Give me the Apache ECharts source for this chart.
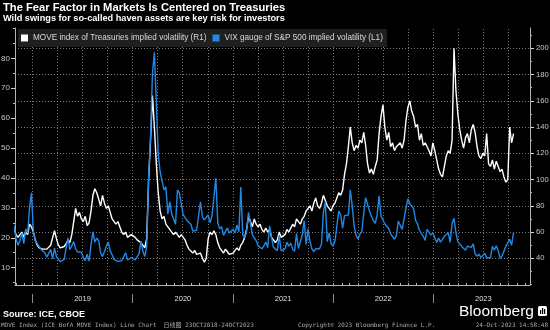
<!DOCTYPE html>
<html><head><meta charset="utf-8">
<script src="https://cdn.jsdelivr.net/npm/echarts@6/dist/echarts.min.js"></script>
<style>html,body{margin:0;padding:0;background:#000}#c{width:550px;height:330px}</style>
</head><body><div id="c"></div>
<script>
// Weekly observations (Fridays) starting at START_WEEK
const START_WEEK = '2018-10-26';
const moveValues = [
  // 2018
  62, 58, 56, 58, 60, 56, 60, 58, 66, 64,
  // 2019
  60, 54, 50, 48,  48, 47, 46, 47,  48, 50, 49, 61, 55,  50, 48, 47, 49,
  51, 54, 52, 58, 68,  78, 72, 75, 70,  68, 72, 65, 67,  76, 88, 93, 90, 85,
  80, 88, 82, 78,  80, 75, 70, 68,  66, 68, 64, 60, 58,  60, 56, 55, 58,
  // 2020
  58, 56, 54, 55, 52,  50, 48, 55, 100,  130, 164, 140, 112,  90, 76, 70, 72,
  66, 64, 62, 60, 58,  60, 58, 56, 58,  56, 54, 50, 47, 46,  44, 46, 43, 42,
  44, 40, 37, 40,  55, 60, 58, 61, 58,  52, 48, 46, 44,  47, 45, 43, 44,
  // 2021
  44, 46, 48, 46, 50,  52, 56, 62, 72,  68, 64, 70, 66,  64, 66, 62, 60, 63,
  60, 62, 56, 54,  52, 54, 60, 56,  55, 58, 62, 60, 63,  66, 64, 70, 68,
  66, 70, 72, 76,  78, 80, 76, 82, 86,  80, 78, 82, 88,  84, 80, 78, 76, 80,
  // 2022
  82, 86, 90, 88,  92, 104, 112, 125,  140, 128, 122, 126,  124, 130, 128, 136, 126,
  112, 105, 108, 104,  110, 115, 135, 148,  157, 140, 130, 136, 125,  128, 122, 125, 126,
  128, 124, 130, 145, 155,  160, 152, 148, 140,  142, 130, 135, 126,  128, 125, 122, 118, 128,
  // 2023
  122, 115, 108, 104,  102, 110, 118, 122,  120, 130, 200, 168, 150,  138, 130, 124, 132,
  135, 128, 138, 142,  136, 125, 118, 116, 120,  118, 135, 112, 110,  115, 108, 114, 110,
  106, 108, 102, 98, 100,  140, 128, 135
];
const vixValues = [
  // 2018
  24, 19.5, 17.5, 19, 21.5, 18, 23, 21.5, 30, 35,
  // 2019
  22, 19, 18, 17.4,  16.1, 15.7, 14.9, 13.5,  13.6, 16.1, 12.9, 16.5, 13.7,  12.8, 12, 12.1, 12.7,
  12.9, 20, 16, 15.9, 18.7,  16.3, 15.3, 15.4, 15.1,  13.3, 12.4, 14.5, 12.2,  17.6, 22, 18.5, 19.9, 19,
  15, 13.7, 15.3, 17.2,  18.5, 15.6, 14.3, 12.7,  12.3, 12.1, 12.05, 12.3, 12.6,  15, 12.6, 12.5, 13.4,
  // 2020
  14, 12.6, 12.1, 14.6, 18.8,  15.5, 13.7, 17.1, 40,  54, 75, 82, 65,  48, 42, 39, 36,
  37, 28, 32, 28, 27.5,  24.5, 36, 35, 34.7,  27.7, 27.3, 25.7, 25.8, 24.5,  22.2, 22.1, 22.5, 23,
  32, 27, 26, 26.4,  27.6, 25, 27.4, 28, 40,  25, 23, 23.7, 20.8,  20.8, 23.3, 21.6, 21.5,
  // 2021
  22.8, 21.6, 24.3, 22, 37,  21, 20, 22, 28.5,  25, 21, 21, 19,  17.3, 17, 16.3, 17.3, 18.6,
  16.7, 24, 20, 16.8,  16.4, 15.7, 20.7, 15.6,  15.1, 16.2, 18.5, 17.2, 18.2,  16.2, 15.5, 21.5, 16.4,
  16.4, 21, 25.7, 17.8,  23, 18.8, 16.3, 15.4, 16.3,  16.5, 16.3, 17.9, 28.6,  32, 18.7, 21.6, 18, 17.2,
  // 2022
  18.8, 19.2, 28.9, 27.7,  23.2, 27.4, 27.8, 27.6,  36, 30.8, 23.9, 20.8,  19.6, 21.2, 22, 28.2, 33.4,
  33, 28.9, 29.4, 25.7,  24.8, 27.8, 34, 27.2,  26.7, 24.6, 24.2, 23, 21.3,  21.2, 19.5, 20.6, 25.6,
  25.5, 22.8, 26.3, 29.9, 33,  31.4, 32, 29.7, 25.8,  24.6, 22.5, 23.1, 20.5,  19.1, 22.8, 22.6, 20.9, 21.7,
  // 2023
  21.1, 18.4, 19.9, 18.5,  18.3, 20.5, 20, 21.7,  18.5, 24.8, 26.5, 21.7, 18.7,  18.4, 17.1, 16.8, 15.8,
  17.2, 17, 16.8, 18,  14.6, 13.8, 14.5, 13.4, 13.6,  14.8, 13.3, 13.6, 13.3,  17.1, 15.8, 17.3, 15.7,
  13.1, 13.8, 13.8, 17.2, 17.5,  19.5, 17.5, 21.7
];
const years = [2019, 2020, 2021, 2022, 2023];
const leftLabels = [10, 20, 30, 40, 50, 60, 70, 80];
const leftMinorTicks = [5, 10, 15, 20, 25, 30, 35, 40, 45, 50, 55, 60, 65, 70, 75, 80, 85, 90];
const rightLabels = [40, 60, 80, 100, 120, 140, 160, 180, 200];
const rightMinorTicks = [20, 30, 40, 50, 60, 70, 80, 90, 100, 110, 120, 130, 140, 150, 160, 170, 180, 190, 200, 210];

const MOVE_NAME = 'MOVE index of Treasuries implied volatility (R1)';
const VIX_NAME = 'VIX gauge of S&P 500 implied volatility (L1)';

function ts(s){ const p = s.split('-').map(Number); return new Date(p[0], p[1]-1, p[2]).getTime(); }
const sw = START_WEEK.split('-').map(Number);
const weekDates = moveValues.map((_, i) => new Date(sw[0], sw[1]-1, sw[2] + 7*i).getTime());
const movePairs = moveValues.map((v, i) => [weekDates[i], v]);
const vixPairs = vixValues.map((v, i) => [weekDates[i], v]);

const XMIN = ts('2018-10-29'), XMAX = ts('2023-12-19');
const monthTicks = [];
for (let k = 0; k < 62; k++) monthTicks.push(new Date(2018, 10 + k, 1).getTime());
const quarterTicks = [];
years.forEach(y => { [0,3,6,9].forEach(m => quarterTicks.push(new Date(y, m, 1).getTime())); });
const yearTicks = years.map(y => new Date(y, 0, 1).getTime());
const yearLabelPos = years.map(y => new Date(y, 6, 2).getTime());

const LMIN = 4.2, LMAX = 90.15, RMIN = 19.66, RMAX = 215.5;
const axisColor = '#b4b4b4';
const labelColor = '#c8c8c8';
const gridColor = '#a0a0a0';
const FONT = "'Liberation Sans', Arial, sans-serif";

const chart = echarts.init(document.getElementById('c'), null, {renderer: 'canvas'});
chart.setOption({
  animation: false,
  backgroundColor: '#000',
  title: [
    {text: 'The Fear Factor in Markets Is Centered on Treasuries', left: 3, top: 2, padding: 0,
     textStyle: {color: '#fff', fontSize: 11.2, fontWeight: 'bold', fontFamily: FONT}},
    {text: 'Wild swings for so-called haven assets are key risk for investors', left: 3, top: 14, padding: 0,
     textStyle: {color: '#fff', fontSize: 9.2, fontWeight: 'bold', fontFamily: FONT}},
    {text: 'Source: ICE, CBOE', left: 3, top: 310, padding: 0,
     textStyle: {color: '#fff', fontSize: 9, fontWeight: 'bold', fontFamily: FONT}},
    {text: 'Bloomberg', left: 459, top: 304, padding: 0,
     textStyle: {color: '#fff', fontSize: 15.5, fontWeight: 'normal', fontFamily: FONT}},
    {text: 'MOVE Index (ICE BofA MOVE Index) Line Chart  日线图 23OCT2018-24OCT2023', left: 1, top: 322, padding: 0,
     textStyle: {color: '#a8a8a8', fontSize: 6, fontWeight: 'normal', fontFamily: "'DejaVu Sans Mono', 'Noto Sans CJK SC', monospace"}},
    {text: 'Copyright© 2023 Bloomberg Finance L.P.', left: 298, top: 322, padding: 0,
     textStyle: {color: '#a8a8a8', fontSize: 6, fontWeight: 'normal', fontFamily: "'DejaVu Sans Mono', monospace"}},
    {text: '24-Oct-2023 14:58:48', right: 2, top: 322, padding: 0,
     textStyle: {color: '#a8a8a8', fontSize: 6, fontWeight: 'normal', fontFamily: "'DejaVu Sans Mono', monospace"}}
  ],
  legend: {
    left: 18, top: 29, padding: [4, 4, 4, 3], itemGap: 6, itemWidth: 7, itemHeight: 7, z: 20,
    backgroundColor: '#1f1f1f', icon: 'rect', selectedMode: false,
    textStyle: {color: '#d8d8d8', fontSize: 8.2, fontFamily: FONT, lineHeight: 10},
    data: [MOVE_NAME, VIX_NAME]
  },
  grid: {left: 15, right: 20, top: 28, bottom: 45, containLabel: false, outerBoundsMode: 'none'},
  xAxis: [
    {type: 'value', position: 'bottom', min: XMIN, max: XMAX,
     axisLine: {show: true, onZero: false, lineStyle: {color: axisColor, width: 1}},
     axisTick: {show: true, customValues: monthTicks, inside: true, length: 2, lineStyle: {color: axisColor}},
     axisLabel: {show: false}, splitLine: {show: false}},
    {type: 'value', position: 'bottom', offset: 9, min: XMIN, max: XMAX,
     axisLine: {show: false, onZero: false},
     axisTick: {show: true, customValues: yearTicks, length: 9, lineStyle: {color: '#8a8a8a'}},
     axisLabel: {show: true, customValues: yearLabelPos, margin: 1, fontSize: 7.5, color: '#e0e0e0', fontFamily: FONT,
       formatter: v => String(new Date(v).getFullYear())},
     splitLine: {show: false}}
  ],
  yAxis: [
    {type: 'value', position: 'left', min: LMIN, max: LMAX,
     axisLine: {show: true, lineStyle: {color: axisColor}},
     axisTick: {show: true, customValues: leftMinorTicks, length: 2, lineStyle: {color: axisColor}},
     axisLabel: {show: false}, splitLine: {show: false}},
    {type: 'value', position: 'right', min: RMIN, max: RMAX,
     axisLine: {show: true, lineStyle: {color: axisColor}},
     axisTick: {show: true, customValues: rightMinorTicks, length: 2, lineStyle: {color: axisColor}},
     axisLabel: {show: false}, splitLine: {show: false}},
    {type: 'value', position: 'left', min: LMIN, max: LMAX,
     axisLine: {show: false},
     axisTick: {show: true, customValues: leftLabels, length: 4, lineStyle: {color: '#d0d0d0'}},
     axisLabel: {show: true, customValues: leftLabels, margin: 5, fontSize: 8, color: labelColor, fontFamily: FONT},
     splitLine: {show: false}},
    {type: 'value', position: 'right', min: RMIN, max: RMAX,
     axisLine: {show: false},
     axisTick: {show: true, customValues: rightLabels, length: 4, lineStyle: {color: '#d0d0d0'}},
     axisLabel: {show: true, customValues: rightLabels, margin: 6, fontSize: 7.6, color: labelColor, fontFamily: FONT},
     splitLine: {show: false}}
  ],
  graphic: [
    {type: 'group', left: 538, top: 306, children: [
      {type: 'rect', shape: {x: 0, y: 0, width: 9, height: 10, r: 1.5}, style: {fill: '#fff'}},
      {type: 'rect', shape: {x: 2, y: 4, width: 1.2, height: 4}, style: {fill: '#000'}},
      {type: 'rect', shape: {x: 4, y: 2, width: 1.2, height: 6}, style: {fill: '#000'}},
      {type: 'rect', shape: {x: 6, y: 3, width: 1.2, height: 5}, style: {fill: '#000'}}
    ]}
  ],
  series: [
    {name: 'gridlines', type: 'line', xAxisIndex: 0, yAxisIndex: 1, data: [], z: 1, silent: true,
     markLine: {silent: true, z: 1, symbol: ['none', 'none'], label: {show: false}, animation: false,
       lineStyle: {color: gridColor, width: 1, type: [1, 2], opacity: 0.75},
       emphasis: {disabled: true},
       data: quarterTicks.map(t => ({xAxis: t})).concat(rightLabels.map(v => ({yAxis: v})))}},
    {name: MOVE_NAME, type: 'line', xAxisIndex: 0, yAxisIndex: 1, data: movePairs,
     symbol: 'none', showSymbol: false, clip: true, z: 3,
     lineStyle: {color: '#ffffff', width: 1.4}, itemStyle: {color: '#ffffff'}},
    {name: VIX_NAME, type: 'line', xAxisIndex: 0, yAxisIndex: 0, data: vixPairs,
     symbol: 'none', showSymbol: false, clip: true, z: 4,
     lineStyle: {color: '#2188e6', width: 1.4}, itemStyle: {color: '#2188e6'}}
  ]
});
</script>
</body></html>
